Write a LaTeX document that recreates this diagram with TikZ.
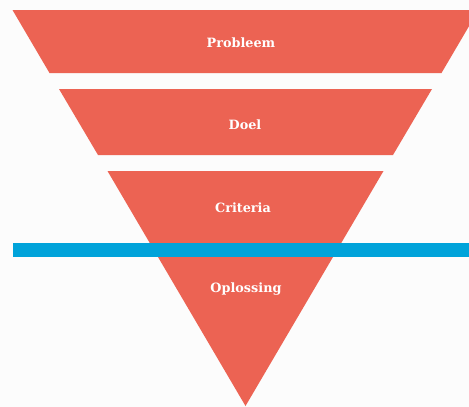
\documentclass[tikz,border=0pt]{standalone}
\usepackage{fontspec}
\setmainfont{DejaVu Serif}
\definecolor{funnelred}{HTML}{EC6353}
\definecolor{barblue}{HTML}{00A3DA}
\definecolor{bg}{HTML}{FCFCFC}
\begin{document}
\begin{tikzpicture}[x=1pt,y=-1pt,
  band/.style={fill=funnelred,draw=none},
  lbl/.style={text=white,font=\bfseries\fontsize{12.8}{14}\selectfont,inner sep=0pt}]
\useasboundingbox (0,0) rectangle (469,407);
\fill[bg] (0,0) rectangle (469,407);
\begin{scope}
\clip (0,0) rectangle (469,407);
% band 1
\fill[band] (12.5,10) -- (478.5,10) -- (441.5,73) -- (49.5,73) -- cycle;
% band 2
\fill[band] (59,89) -- (432,89) -- (393,155) -- (98,155) -- cycle;
% band 3 + tip
\fill[band] (107.5,171) -- (383.5,171) -- (245.5,406) -- cycle;
\end{scope}
% blue bar
\fill[barblue] (13,243) rectangle (469,257);
\node[lbl] (p) at (241,42.5) {Probleem};
\node[lbl] (d) at (245,125) {Doel};
\node[lbl] (c) at (243,207.5) {Criteria};
\node[lbl] (o) at (246,289.5) {Oplossing};
\end{tikzpicture}
\end{document}
